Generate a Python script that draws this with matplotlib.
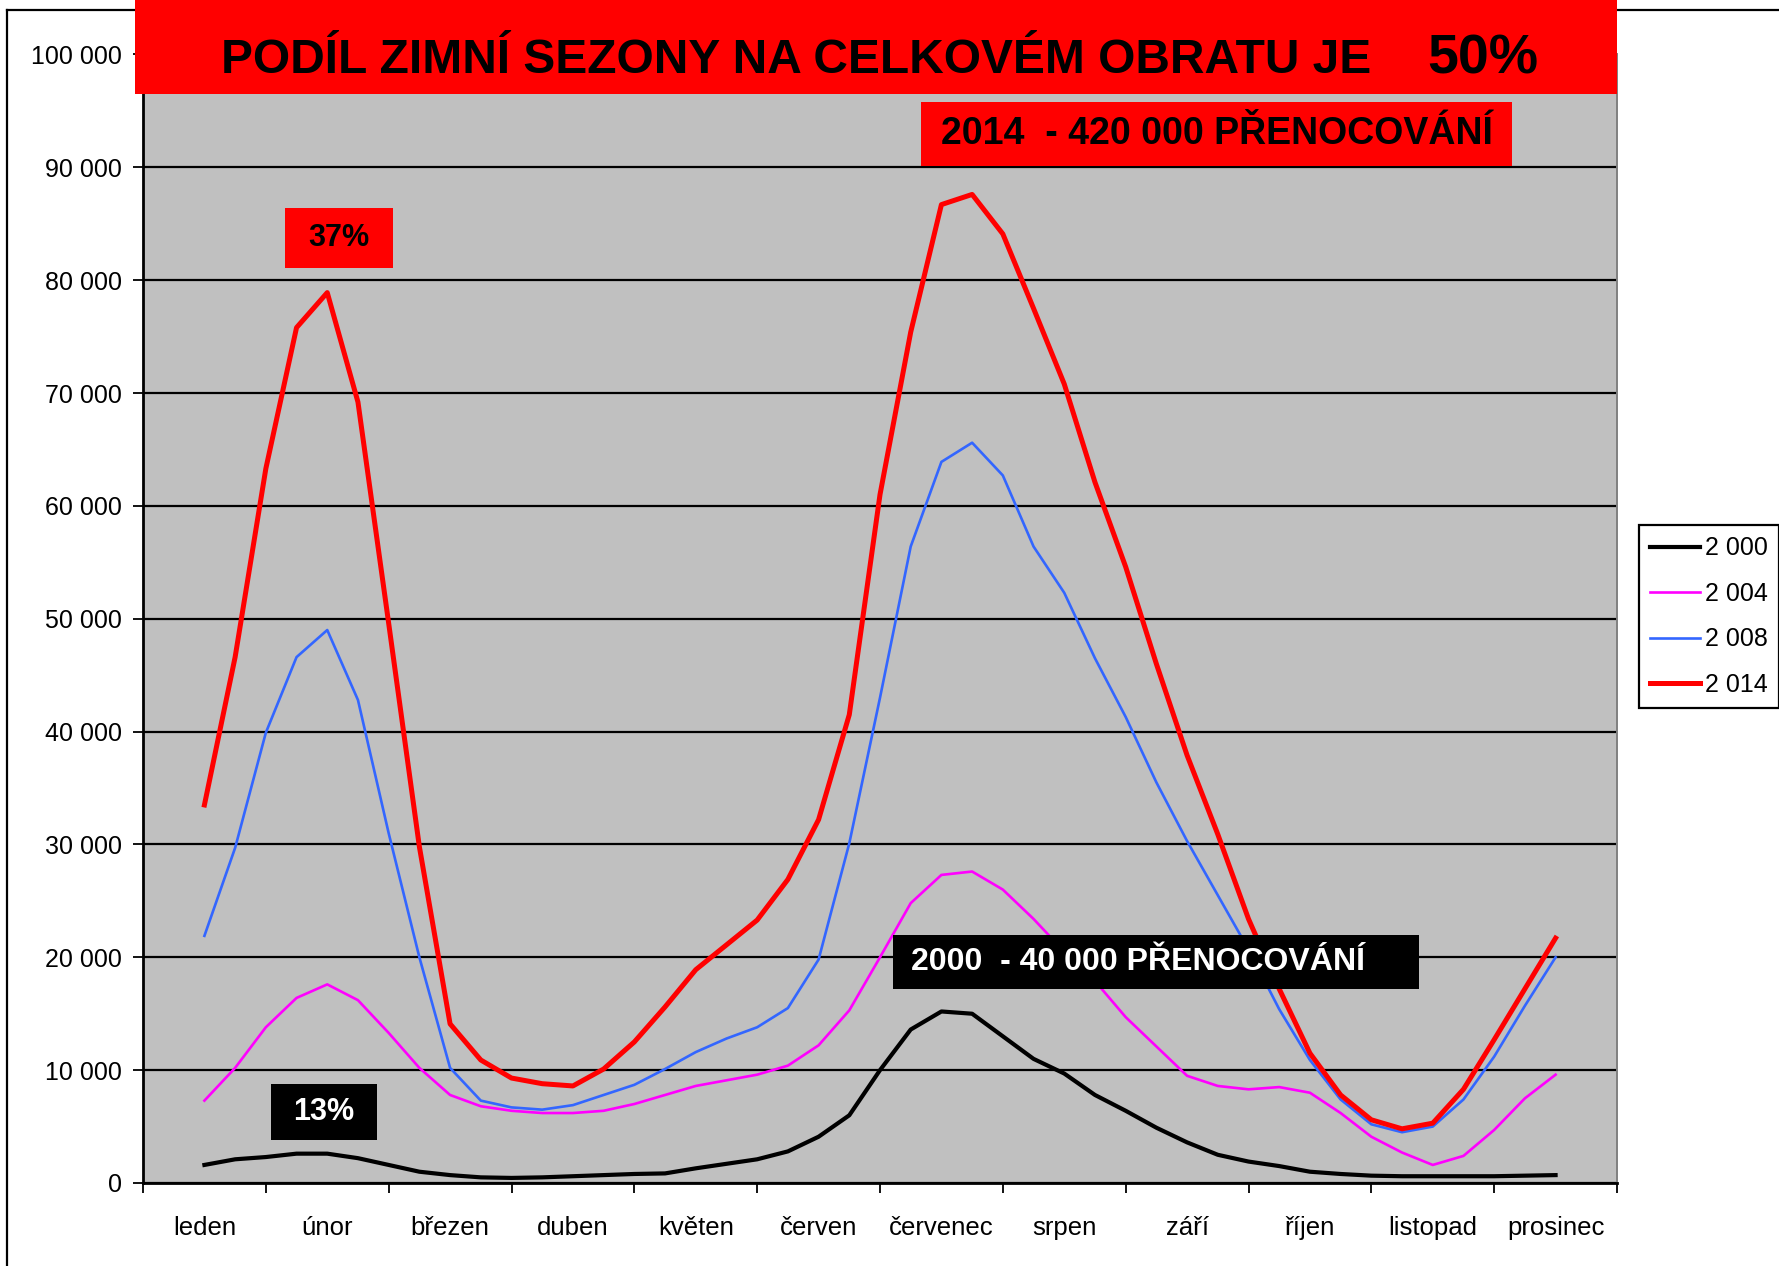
"""
monthly overnight stays 2000 / 2004 / 2008 / 2014 - winter vs summer season.
values read off the original excel chart, four readings per month.
"""
import matplotlib
matplotlib.use("Agg")
import matplotlib.pyplot as plt
from matplotlib.patches import Rectangle
from matplotlib.ticker import FuncFormatter, MultipleLocator

plt.rcParams["font.family"] = ["Liberation Sans", "DejaVu Sans"]

MONTHS = ["leden", "únor", "březen", "duben", "květen", "červen",
          "červenec", "srpen", "září", "říjen", "listopad", "prosinec"]

# 45 readings: mid-January to mid-December, quarter-month step
STEPS_PER_MONTH = 4
N_POINTS = 45

Y2000 = [1600, 2100, 2300, 2600, 2600, 2200, 1600, 1000, 700, 500, 450, 500,
         600, 700, 800, 850, 1300, 1700, 2100, 2800, 4100, 6000, 10000, 13600,
         15200, 15000, 13000, 11000, 9700, 7800, 6400, 4900, 3600, 2500, 1900,
         1500, 1000, 800, 650, 600, 600, 600, 600, 650, 700]
Y2004 = [7300, 10200, 13800, 16400, 17600, 16200, 13300, 10200, 7800, 6800,
         6400, 6200, 6200, 6400, 7000, 7800, 8600, 9100, 9600, 10400, 12200,
         15300, 20000, 24800, 27300, 27600, 26000, 23400, 20500, 17900, 14700,
         12100, 9500, 8600, 8300, 8500, 8000, 6200, 4100, 2700, 1600, 2400,
         4700, 7500, 9600]
Y2008 = [21900, 29700, 39900, 46600, 49000, 42800, 31000, 20000, 10200, 7300,
         6700, 6500, 6900, 7800, 8700, 10100, 11600, 12800, 13800, 15500, 19800,
         30100, 43000, 56400, 63900, 65600, 62700, 56400, 52300, 46500, 41300,
         35500, 30300, 25500, 20700, 15400, 10900, 7400, 5200, 4500, 5000, 7400,
         11200, 15700, 20000]
Y2014 = [33500, 46600, 63300, 75800, 78900, 69200, 49600, 29800, 14100, 10900,
         9300, 8800, 8600, 10100, 12500, 15600, 18900, 21100, 23300, 26900,
         32200, 41500, 61000, 75400, 86700, 87600, 84100, 77500, 70800, 62100,
         54600, 46000, 37900, 30900, 23400, 17200, 11500, 7800, 5600, 4800, 5300,
         8300, 12700, 17200, 21700]

SERIES = [("2 000", Y2000, "#000000", 3.0),
          ("2 004", Y2004, "#FF00FF", 1.9),
          ("2 008", Y2008, "#3366FF", 1.9),
          ("2 014", Y2014, "#FF0000", 3.6)]

TITLE = "PODÍL ZIMNÍ SEZONY NA CELKOVÉM OBRATU JE"
TITLE_PCT = "50%"

W, H = 1779, 1266


def fx(px):
    return px / W


def fy(py):
    return 1 - py / H


fig = plt.figure(figsize=(W / 100, H / 100), dpi=100)
fig.patch.set_facecolor("white")

# outer chart frame (excel chart area border)
fig.add_artist(plt.Line2D([fx(7), fx(7)], [fy(10), 0], color="black", lw=1.6, transform=fig.transFigure))
fig.add_artist(plt.Line2D([fx(7), 1], [fy(10), fy(10)], color="black", lw=1.6, transform=fig.transFigure))

ax = fig.add_axes([fx(143), fy(1183), fx(1617) - fx(143), fy(54.5) - fy(1183)])
ax.set_facecolor("#C0C0C0")

x = [0.5 + k / STEPS_PER_MONTH for k in range(N_POINTS)]
for label, ys, color, lw in SERIES:
    ax.plot(x, ys, color=color, lw=lw, label=label, solid_joinstyle="round", zorder=3)

ax.set_xlim(0, 12)
ax.set_ylim(0, 100000)
ax.yaxis.set_major_locator(MultipleLocator(10000))
ax.yaxis.set_major_formatter(FuncFormatter(lambda v, _: f"{int(v):,}".replace(",", " ")))
ax.set_xticks(range(13))
ax.set_xticklabels([])
ax.set_xticks([m + 0.5 for m in range(12)], minor=True)
ax.set_xticklabels(MONTHS, minor=True)
ax.tick_params(axis="x", which="minor", length=0, pad=24, labelsize=18.5)
ax.tick_params(axis="x", which="major", direction="out", length=7, width=1.3)
ax.tick_params(axis="y", direction="out", length=7, width=1.3, pad=8, labelsize=18)
ax.grid(axis="y", color="black", lw=1.6, zorder=1)
ax.set_axisbelow(True)
for side in ("left", "bottom"):
    ax.spines[side].set_linewidth(2.0)
    ax.spines[side].set_color("black")
ax.spines["bottom"].set_zorder(4)
for side in ("right", "top"):
    ax.spines[side].set_color("#808080")
    ax.spines[side].set_linewidth(1.4)

leg = ax.legend(loc="upper left", bbox_to_anchor=(fx(1639), fy(525)), bbox_transform=fig.transFigure,
                fontsize=18, frameon=True, fancybox=False, edgecolor="black", framealpha=1,
                handlelength=2.0, handletextpad=0.2, labelspacing=0.86, borderpad=0.45,
                borderaxespad=0)
leg.get_frame().set_linewidth(1.6)

# title banner
fig.add_artist(Rectangle((fx(135), fy(94)), fx(1617) - fx(135), 94 / H, facecolor="#FF0000",
                         edgecolor="none", transform=fig.transFigure, zorder=5))
fig.text(fx(221), fy(73), TITLE, fontsize=34.5, fontweight="bold", color="black",
         ha="left", va="baseline", zorder=6)
fig.text(fx(1427), fy(74), TITLE_PCT, fontsize=40, fontweight="bold", color="black",
         ha="left", va="baseline", zorder=6)


def label_box(x0, y0, x1, y1, text, size, face, fg, tx=None):
    fig.add_artist(Rectangle((fx(x0), fy(y1)), fx(x1) - fx(x0), (y1 - y0) / H, facecolor=face,
                             edgecolor="none", transform=fig.transFigure, zorder=5))
    if tx is None:
        fig.text(fx((x0 + x1) / 2), fy((y0 + y1) / 2), text, fontsize=size, fontweight="bold",
                 color=fg, ha="center", va="center", zorder=6)
    else:
        fig.text(fx(tx), fy((y0 + y1) / 2), text, fontsize=size, fontweight="bold",
                 color=fg, ha="left", va="center", zorder=6)


label_box(921, 102, 1512, 166, "2014  - 420 000 PŘENOCOVÁNÍ", 27, "#FF0000", "black", tx=941)
label_box(893, 935, 1419, 989, "2000  - 40 000 PŘENOCOVÁNÍ", 23, "black", "white", tx=911)
label_box(285, 208, 393, 268, "37%", 22, "#FF0000", "black")
label_box(271, 1084, 377, 1140, "13%", 22, "black", "white")

fig.savefig("out.png", dpi=100)
